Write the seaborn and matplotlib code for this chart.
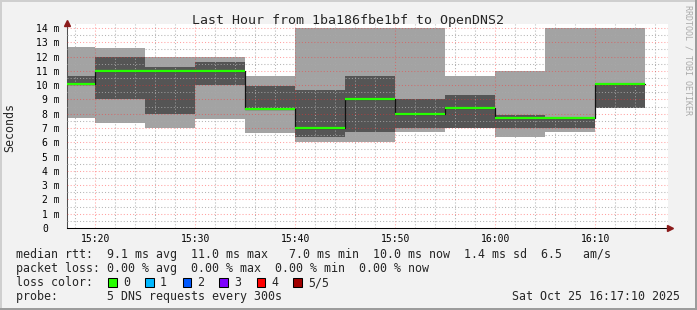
import matplotlib
matplotlib.use("Agg")
import matplotlib.pyplot as plt
from matplotlib.patches import Rectangle
from matplotlib.ticker import MultipleLocator, FixedLocator
import seaborn as sns
import pandas as pd

# ---------------- data (ms), 5-minute steps ending at these times ----------------
step_end_labels = ["15:20", "15:25", "15:30", "15:35", "15:40", "15:45",
                   "15:50", "15:55", "16:00", "16:05", "16:10", "16:15"]
light_top = [12.70, 12.62, 12.00, 12.00, 10.66, 14.00, 14.00, 14.00, 10.66, 11.00, 14.00, 14.00]
dark_top  = [10.66, 12.00, 11.30, 11.63,  9.96,  9.68, 10.66,  9.00,  9.33,  7.93,  7.67, 10.05]
median    = [10.05, 11.02, 11.02, 11.02,  8.30,  6.98,  9.00,  7.95,  8.37,  7.67,  7.67, 10.05]
dark_bot  = [10.05,  9.00,  8.00, 10.03,  8.30,  6.34,  6.69,  6.98,  6.98,  6.98,  6.98,  8.37]
light_bot = [ 7.70,  7.32,  6.98,  7.65,  6.62,  6.00,  6.00,  6.69,  6.98,  6.34,  6.69,  8.37]

x_tick_labels = ["15:20", "15:30", "15:40", "15:50", "16:00", "16:10"]
y_tick_labels = ["0"] + [f"{i} m" for i in range(1, 15)]

title = "Last Hour from 1ba186fbe1bf to OpenDNS2"
legend_rtt = "median rtt:  9.1 ms avg  11.0 ms max   7.0 ms min  10.0 ms now  1.4 ms sd  6.5   am/s"
legend_loss = "packet loss: 0.00 % avg  0.00 % max  0.00 % min  0.00 % now"
loss_labels = ["0", "1", "2", "3", "4", "5/5"]
loss_colors = ["#26ff00", "#00b8ff", "#0059ff", "#7e00ff", "#ff0000", "#a10000"]
probe_text = "probe:       5 DNS requests every 300s"
date_text = "Sat Oct 25 16:17:10 2025"

# ---------------- helpers ----------------
def tmin(s):
    h, m = s.split(":")
    return (int(h) - 15) * 60 + int(m)

ends = [tmin(s) for s in step_end_labels]
starts = [e - 5 for e in ends]
xs = [starts[0]] + ends

sns.set_style("white")
plt.rcParams["font.family"] = ["DejaVu Sans Mono"]

W, H = 697, 310
fig = plt.figure(figsize=(W / 100, H / 100), dpi=100, facecolor="#f2f2f2")
ax = fig.add_axes([67 / W, (H - 228) / H, 601 / W, 204 / H])
ax.set_facecolor("white")

x0 = 17 + 10 / 60
ax.set_xlim(x0, x0 + 60.1)
ax.set_ylim(0, 14.28)

# smoke bands
ax.fill_between(xs, [light_bot[0]] + light_bot, [light_top[0]] + light_top,
                step="pre", color="#a3a3a3", lw=0, zorder=1)
ax.fill_between(xs, [dark_bot[0]] + dark_bot, [dark_top[0]] + dark_top,
                step="pre", color="#555555", lw=0, zorder=1.2)

# median step line (black verticals) + green horizontals
df = pd.DataFrame({"t": xs, "median": [median[0]] + median})
sns.lineplot(data=df, x="t", y="median", drawstyle="steps-pre", color="#111111",
             lw=0.9, ax=ax, zorder=3)
ax.hlines(median, [max(s, x0) for s in starts], ends, color="#26ff00", lw=1.6, zorder=4)

# grid
ax.xaxis.set_major_locator(FixedLocator([tmin(s) for s in x_tick_labels]))
ax.xaxis.set_minor_locator(MultipleLocator(2))
ax.yaxis.set_major_locator(FixedLocator(range(0, 15)))
ax.yaxis.set_minor_locator(MultipleLocator(0.5))
ax.set_axisbelow(False)
ax.grid(which="major", color="#ff3030", alpha=0.45, lw=0.75, ls=(0, (1, 2)))
ax.grid(which="minor", color="#a8a8a8", alpha=0.85, lw=0.75, ls=(0, (1, 2)))

ax.set_xticklabels(x_tick_labels)
ax.set_yticklabels(y_tick_labels)
ax.set_xlabel("")
ax.set_ylabel("")
ax.tick_params(axis="both", which="both", direction="out", color="#404040", width=0.75,
               labelsize=7, labelcolor="black")
ax.tick_params(axis="x", which="major", length=2.2, pad=2.0)
ax.tick_params(axis="x", which="minor", length=1.5)
ax.tick_params(axis="y", which="major", length=2.2, pad=2.9)
ax.tick_params(axis="y", which="minor", length=0)
ax.yaxis.get_major_ticks()[0].set_pad(11.5)

for side in ["top", "right"]:
    ax.spines[side].set_visible(False)
ax.spines["left"].set_color("#505050")
ax.spines["bottom"].set_color("black")
ax.spines["left"].set_linewidth(0.75)
ax.spines["bottom"].set_linewidth(0.75)

# axis arrows
ax.plot([0], [1.005], marker="^", ms=4.5, color="#8b1a1a", transform=ax.transAxes,
        clip_on=False, zorder=6)
ax.plot([1.004], [0], marker=">", ms=4.5, color="#8b1a1a", transform=ax.transAxes,
        clip_on=False, zorder=6)

# ---------------- figure texts ----------------
def fx(px): return px / W
def fy(py): return 1 - py / H

fig.text(fx(348), fy(24), title, ha="center", va="baseline", fontsize=9.5)
fig.text(fx(10), fy(127.5), "Seconds", rotation=90, ha="center", va="center", fontsize=8.4)
fig.text(fx(688), fy(60), "RRDTOOL / TOBI OETIKER", rotation=270, ha="center",
         va="center", fontsize=6, color="#aaaaaa")

fig.text(fx(15.5), fy(258), legend_rtt, ha="left", va="baseline", fontsize=8.4)
fig.text(fx(15.5), fy(272), legend_loss, ha="left", va="baseline", fontsize=8.4)
fig.text(fx(15.5), fy(286), "loss color:", ha="left", va="baseline", fontsize=8.4)
box_x = [108.3, 145.3, 182.7, 219.3, 256.7, 293.3]
for bx, lab, col in zip(box_x, loss_labels, loss_colors):
    fig.patches.append(Rectangle((fx(bx), fy(286.7)), 8.3 / W, 8.7 / H, transform=fig.transFigure,
                                 facecolor=col, edgecolor="black", lw=0.75))
    fig.text(fx(bx + 14.5), fy(286), lab, ha="left", va="baseline", fontsize=8.4)
fig.text(fx(15.5), fy(300), probe_text, ha="left", va="baseline", fontsize=8.4)
fig.text(fx(680.5), fy(300), date_text, ha="right", va="baseline", fontsize=8.4)

# frame borders
fig.patches.append(Rectangle((0, 0), 2 / W, 1, transform=fig.transFigure, color="#cfcfcf", lw=0))
fig.patches.append(Rectangle((0, 1 - 2 / H), 1, 2 / H, transform=fig.transFigure, color="#cfcfcf", lw=0))
fig.patches.append(Rectangle((1 - 2.5 / W, 0), 2.5 / W, 1, transform=fig.transFigure, color="#9c9c9c", lw=0))
fig.patches.append(Rectangle((0, 0), 1, 2 / H, transform=fig.transFigure, color="#9c9c9c", lw=0))

fig.savefig("out.png", dpi=100, facecolor=fig.get_facecolor())
